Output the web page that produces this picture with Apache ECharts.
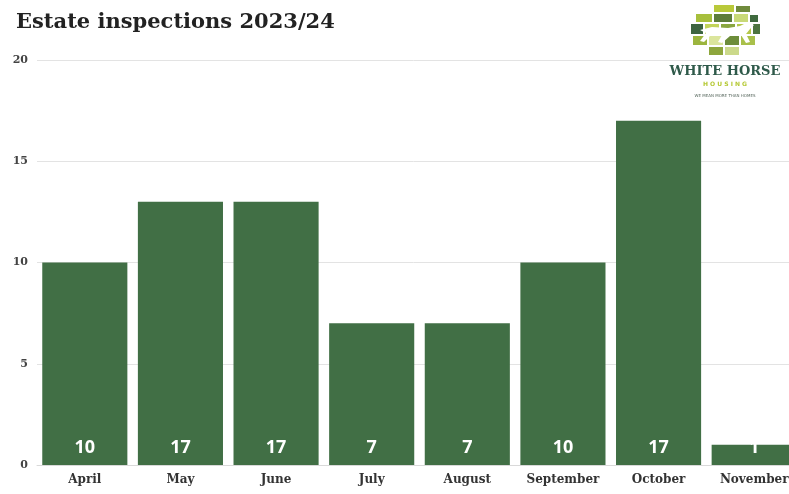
<!DOCTYPE html>
<html>
<head>
<meta charset="utf-8">
<script src="https://cdn.jsdelivr.net/npm/echarts@6/dist/echarts.min.js"></script>
<style>
  html, body { margin: 0; padding: 0; background: #ffffff; }
  #chart { width: 789px; height: 494px; }
</style>
</head>
<body>
<div id="chart"></div>
<script>
// Monthly estate inspections, 2023/24
const months = ['April', 'May', 'June', 'July', 'August', 'September', 'October', 'November'];
const barHeights = [10, 13, 13, 7, 7, 10, 17, 1];
const barLabels = ['10', '17', '17', '7', '7', '10', '17', '1'];
const yTicks = [0, 5, 10, 15, 20];

const chart = echarts.init(document.getElementById('chart'), null, { renderer: 'canvas' });

// Mosaic tiles for the housing association logo (x, y, w, h, colour)
const tiles = [
  [714, 5, 20, 7, '#b9c93a'], [736, 6, 14, 6, '#6f8a3c'],
  [696, 14, 16, 8, '#a7bf3c'], [714, 14, 18, 8, '#5d7c3a'], [734, 14, 14, 8, '#c9d978'], [750, 15, 8, 7, '#3f6a3e'],
  [691, 24, 12, 10, '#3d6440'], [705, 24, 14, 10, '#c3d45a'], [721, 24, 14, 10, '#8aa640'], [737, 24, 14, 10, '#b5c84a'], [753, 24, 7, 10, '#4d7440'],
  [693, 36, 14, 9, '#9cb53e'], [709, 36, 14, 9, '#dbe59c'], [725, 36, 14, 9, '#6d8d3a'], [741, 36, 14, 9, '#a9c04a'],
  [709, 47, 14, 8, '#8da63c'], [725, 47, 14, 8, '#cbd98a']
];

const logo = tiles.map(t => ({
  type: 'rect',
  shape: { x: t[0], y: t[1], width: t[2], height: t[3] },
  style: { fill: t[4] },
  z: 10
}));

// Horse silhouette across the mosaic
logo.push({
  type: 'polygon',
  shape: {
    points: [[700, 30], [712, 27], [728, 28], [740, 26], [748, 22], [754, 25], [750, 29],
             [746, 34], [750, 42], [746, 43], [741, 35], [730, 36], [722, 43], [718, 42],
             [722, 35], [712, 34], [704, 42], [700, 41], [706, 33]]
  },
  style: { fill: '#ffffff' },
  z: 11
});

logo.push(
  {
    type: 'text', x: 725, y: 72, z: 11,
    style: { text: 'WHITE HORSE', fill: '#2f5a4a', font: 'bold 13px "DejaVu Serif"', align: 'center', verticalAlign: 'middle' }
  },
  {
    type: 'text', x: 725, y: 84, z: 11,
    style: { text: 'H O U S I N G', fill: '#b5c934', font: 'bold 6px "DejaVu Sans"', align: 'center', verticalAlign: 'middle' }
  },
  {
    type: 'text', x: 725, y: 96, z: 11,
    style: { text: 'WE MEAN MORE THAN HOMES', fill: '#5a6a60', font: '4px "DejaVu Sans"', align: 'center', verticalAlign: 'middle' }
  }
);

const option = {
  animation: false,
  backgroundColor: '#ffffff',
  title: {
    text: 'Estate inspections 2023/24',
    left: 11,
    top: 7,
    textStyle: {
      fontFamily: 'DejaVu Serif',
      fontWeight: 'bold',
      fontSize: 21,
      color: '#222222'
    }
  },
  // The last category runs past the right edge of the canvas
  grid: { left: 37, width: 765, top: 60, bottom: 29, containLabel: false, outerBoundsMode: 'none' },
  xAxis: {
    type: 'category',
    data: months,
    axisLine: { show: true, lineStyle: { color: '#d9d9d9', width: 1 } },
    axisTick: { show: false },
    axisLabel: {
      interval: 0,
      hideOverlap: false,
      margin: 9,
      fontFamily: 'DejaVu Serif',
      fontSize: 12,
      fontWeight: 'bold',
      color: '#333333'
    }
  },
  yAxis: {
    type: 'value',
    min: yTicks[0],
    max: yTicks[yTicks.length - 1],
    interval: yTicks[1] - yTicks[0],
    axisLine: { show: false },
    axisTick: { show: false },
    splitLine: { lineStyle: { color: '#e3e3e3', width: 1 } },
    axisLabel: {
      margin: 9,
      fontFamily: 'DejaVu Serif',
      fontSize: 11,
      fontWeight: 'bold',
      color: '#444444'
    }
  },
  series: [{
    type: 'bar',
    data: barHeights,
    barCategoryGap: '11%',
    itemStyle: { color: '#416f45' },
    label: {
      show: true,
      position: 'insideBottom',
      distance: 8,
      formatter: p => barLabels[p.dataIndex],
      fontFamily: 'Open Sans',
      fontWeight: 'bold',
      fontSize: 18,
      color: '#ffffff'
    }
  }],
  graphic: logo
};

chart.setOption(option);
</script>
</body>
</html>
